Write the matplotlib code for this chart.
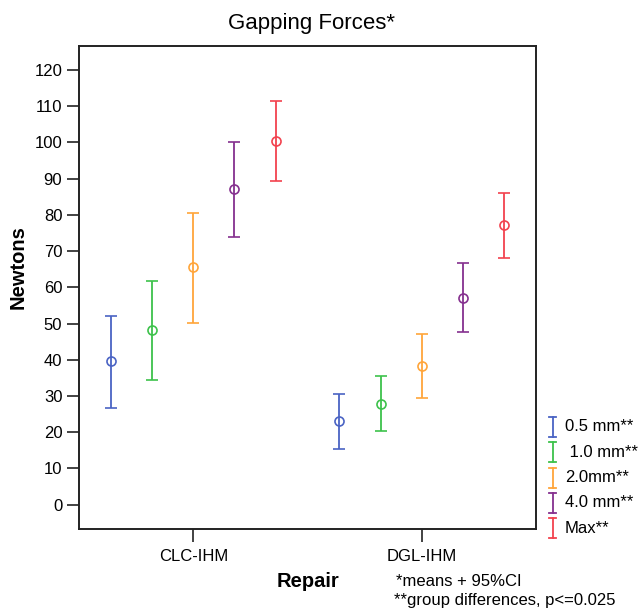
import matplotlib
matplotlib.use("Agg")
import matplotlib.pyplot as plt
from matplotlib.lines import Line2D
import numpy as np

plt.rcParams['font.family'] = ['Liberation Sans', 'DejaVu Sans']

# ---- data ----
repairs = ["CLC-IHM", "DGL-IHM"]
series = ["0.5 mm**", " 1.0 mm**", "2.0mm**", "4.0 mm**", "Max**"]
colors = ["#4A63C4", "#3DC24B", "#FFA53A", "#85308F", "#F2424E"]
means = [
    [39.7, 23.0],   # 0.5 mm
    [48.2, 27.9],   # 1.0 mm
    [65.5, 38.2],   # 2.0 mm
    [87.2, 57.1],   # 4.0 mm
    [100.5, 77.1],  # Max
]
lower = [
    [26.8, 15.3],
    [34.5, 20.2],
    [50.2, 29.4],
    [73.9, 47.7],
    [89.4, 68.0],
]
upper = [
    [52.1, 30.5],
    [61.8, 35.6],
    [80.5, 47.0],
    [100.0, 66.6],
    [111.4, 86.0],
]
yticks = list(range(0, 121, 10))

W, H = 641, 612
fig = plt.figure(figsize=(W / 100, H / 100), dpi=100)
ax = fig.add_axes([79 / W, 1 - 529.3 / H, (536 - 79) / W, (529.3 - 46) / H])

offsets = np.linspace(-0.36, 0.36, len(series))
xbase = np.arange(len(repairs))
for i, (lab, c) in enumerate(zip(series, colors)):
    m = np.array(means[i])
    lo = np.array(lower[i])
    hi = np.array(upper[i])
    ax.errorbar(xbase + offsets[i], m, yerr=[m - lo, hi - m], fmt='o',
                mfc='none', mec=c, mew=1.2, ms=6.5, color=c,
                elinewidth=1.3, capsize=4.5, capthick=1.3)

ax.set_xlim(-0.5, 1.5)
ax.set_ylim(-6.8, 126.6)
ax.set_yticks(yticks)
ax.set_yticklabels([str(t) for t in yticks])
ax.set_xticks(xbase)
ax.set_xticklabels(repairs)
ax.tick_params(axis='both', direction='out', length=9, width=1.2,
               labelsize=12, color='#222222', pad=3)
ax.tick_params(axis='x', pad=5)
for s in ax.spines.values():
    s.set_linewidth(1.4)
    s.set_color('#222222')

fig.text(312 / W, 1 - 23 / H, "Gapping Forces*", ha='center', va='center',
         fontsize=16)
fig.text(18 / W, 1 - 267 / H, "Newtons", rotation=90, ha='center',
         va='center', fontsize=14.5, fontweight='bold')
fig.text(307.5 / W, 1 - 581.7 / H, "Repair", ha='center', va='center',
         fontsize=14.5, fontweight='bold')
fig.text(396 / W, 1 - 581.7 / H, "*means + 95%CI", ha='left', va='center',
         fontsize=12)
fig.text(394 / W, 1 - 600.7 / H, "**group differences, p<=0.025", ha='left',
         va='center', fontsize=12)

# legend (manual, error-bar style icons)
for i, (lab, c) in enumerate(zip(series, colors)):
    yc = 426.7 + 25.4 * i
    xi = 552.7
    fig.add_artist(Line2D([xi / W, xi / W], [1 - (yc - 10) / H, 1 - (yc + 10) / H],
                          color=c, lw=1.3, transform=fig.transFigure))
    for yy in (yc - 10, yc + 10):
        fig.add_artist(Line2D([(xi - 3.5) / W, (xi + 3.5) / W], [1 - yy / H, 1 - yy / H],
                              color=c, lw=1.3, transform=fig.transFigure))
    fig.text(565 / W, 1 - yc / H, lab, ha='left', va='center', fontsize=12)

fig.savefig("out.png", dpi=100)
